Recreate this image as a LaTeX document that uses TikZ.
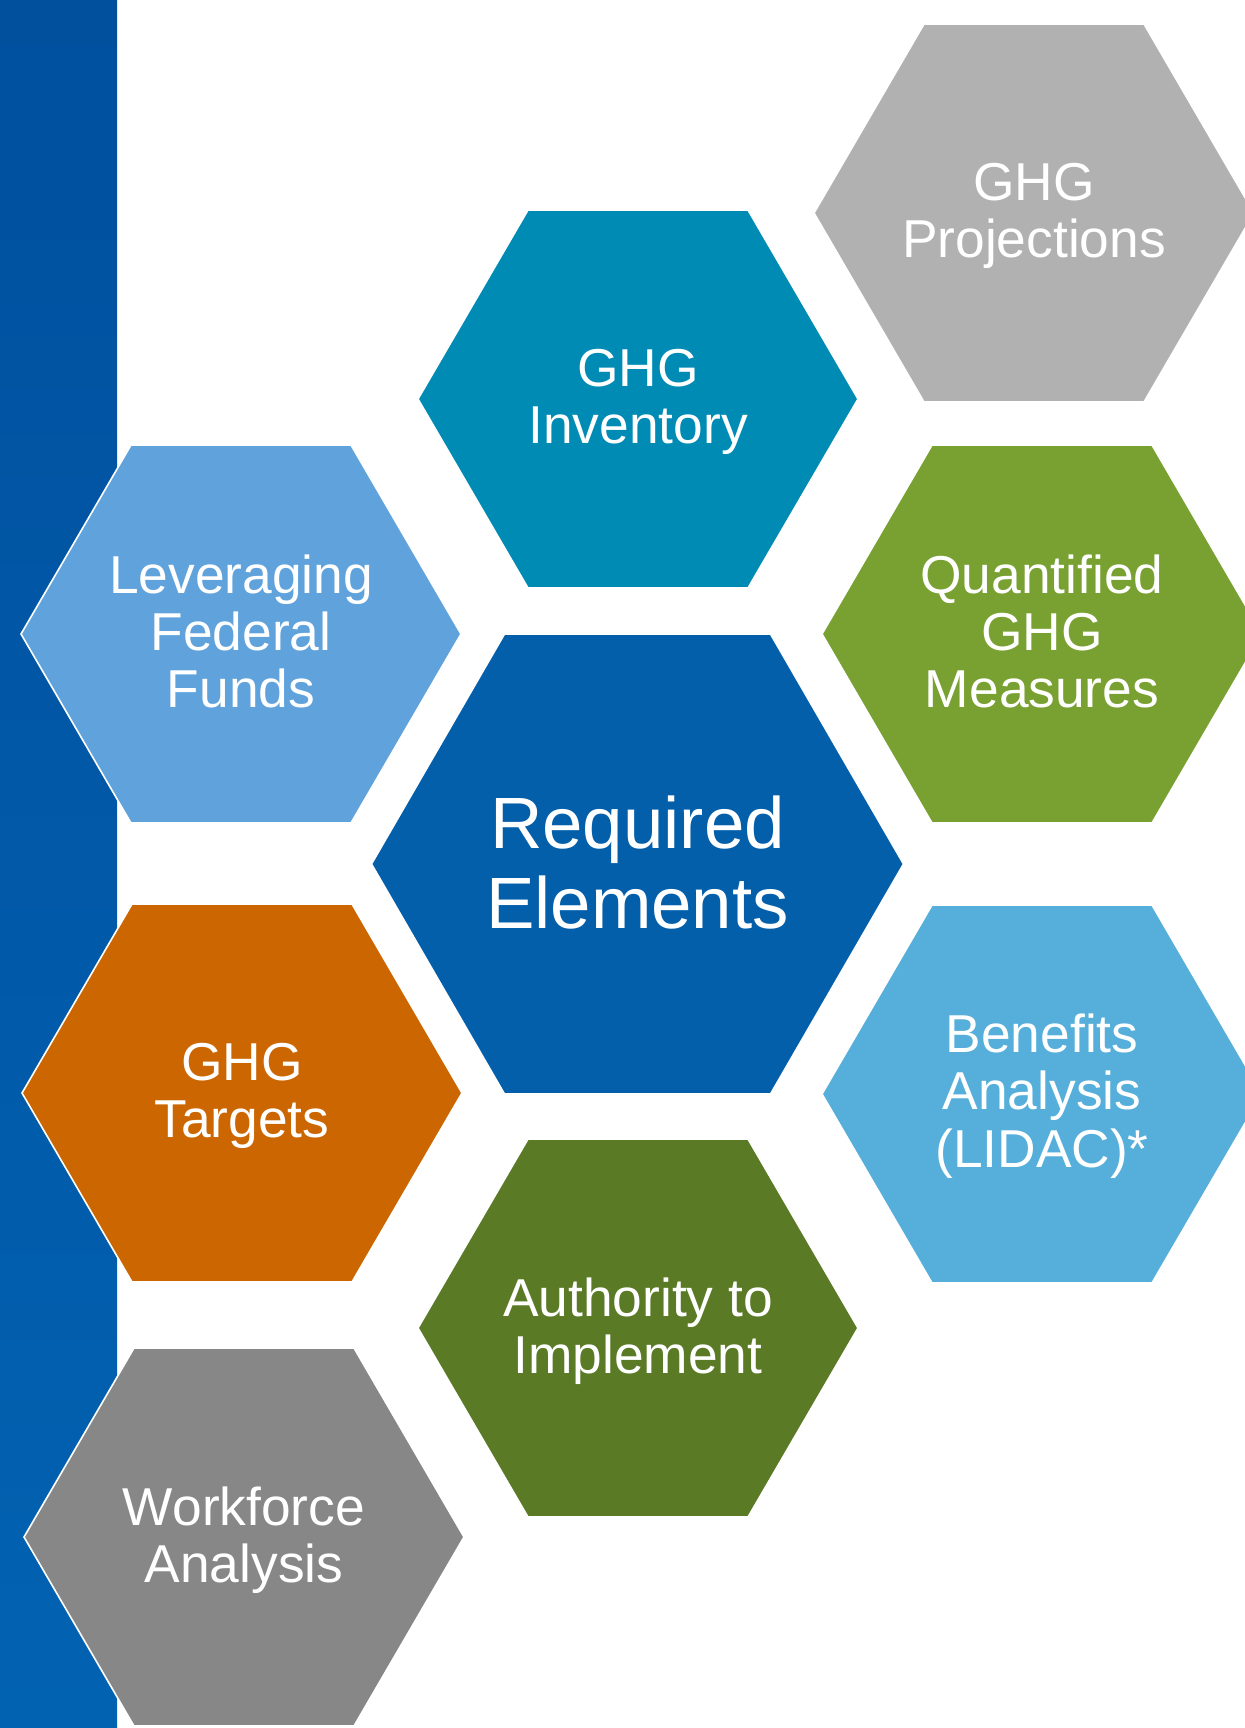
\documentclass[tikz,border=0pt]{standalone}
\usepackage{fontspec}
\setmainfont{Liberation Sans}

\definecolor{bandtop}{RGB}{0,80,158}
\definecolor{bandbot}{RGB}{2,98,178}
\definecolor{projgray}{RGB}{177,177,177}
\definecolor{invteal}{RGB}{0,139,181}
\definecolor{levblue}{RGB}{96,163,220}
\definecolor{quantgreen}{RGB}{121,161,50}
\definecolor{reqblue}{RGB}{4,95,171}
\definecolor{targorange}{RGB}{204,102,0}
\definecolor{benblue}{RGB}{86,175,218}
\definecolor{authgreen}{RGB}{90,122,38}
\definecolor{workgray}{RGB}{135,135,135}

% hexagon path: centre x, centre y, half width, half height
\newcommand{\hexpath}[4]{(#1-#3,#2) -- (#1-#3/2,#2-#4) -- (#1+#3/2,#2-#4) -- (#1+#3,#2) -- (#1+#3/2,#2+#4) -- (#1-#3/2,#2+#4) -- cycle}

\tikzset{
  hexcell/.style={draw=white, line width=1.2pt},
  hextext/.style={text=white, align=center, inner sep=0pt, font=\fontsize{40}{43}\selectfont},
  bigtext/.style={text=white, align=center, inner sep=0pt, font=\fontsize{54.5}{60}\selectfont}
}

\begin{document}
\begin{tikzpicture}[x=0.75pt,y=0.75pt,yscale=-1,xscale=1]
    \clip (0,0) rectangle (1245,1728);
    \fill[white] (0,0) rectangle (1245,1728);
    %Side band
    \shade[top color=bandtop, bottom color=bandbot] (0,0) rectangle (117,1728);
    %Hexagons
    \draw[hexcell, fill=projgray] \hexpath{1034}{213}{220}{189};
    \draw[hexcell, fill=invteal] \hexpath{638}{399}{220}{189};
    \draw[hexcell, fill=levblue] \hexpath{241}{634}{220}{189};
    \draw[hexcell, fill=quantgreen] \hexpath{1042}{634}{220}{189};
    \draw[hexcell, fill=reqblue] \hexpath{637.5}{864}{266}{230};
    \draw[hexcell, fill=targorange] \hexpath{242}{1093}{220}{189};
    \draw[hexcell, fill=benblue] \hexpath{1042}{1094}{220}{189};
    \draw[hexcell, fill=authgreen] \hexpath{638}{1328}{220}{189};
    \draw[hexcell, fill=workgray] \hexpath{244}{1537}{220}{189};
    % Text Nodes
    \node[hextext] (proj) at (1034,216) {GHG\\Projections};
    \node[hextext] (inv) at (638,402) {GHG\\Inventory};
    \node[hextext] (lev) at (241,631.5) {Leveraging\\Federal\\Funds};
    \node[hextext] (quant) at (1042,631.5) {Quantified\\GHG\\Measures};
    \node[bigtext] (req) at (637.5,863) {Required\\Elements};
    \node[hextext] (targ) at (242,1096) {GHG\\Targets};
    \node[hextext] (ben) at (1042,1096) {Benefits\\Analysis\\(LIDAC)*};
    \node[hextext] (auth) at (638,1331) {Authority to\\Implement};
    \node[hextext] (work) at (244,1540) {Workforce\\Analysis};
\end{tikzpicture}
\end{document}
